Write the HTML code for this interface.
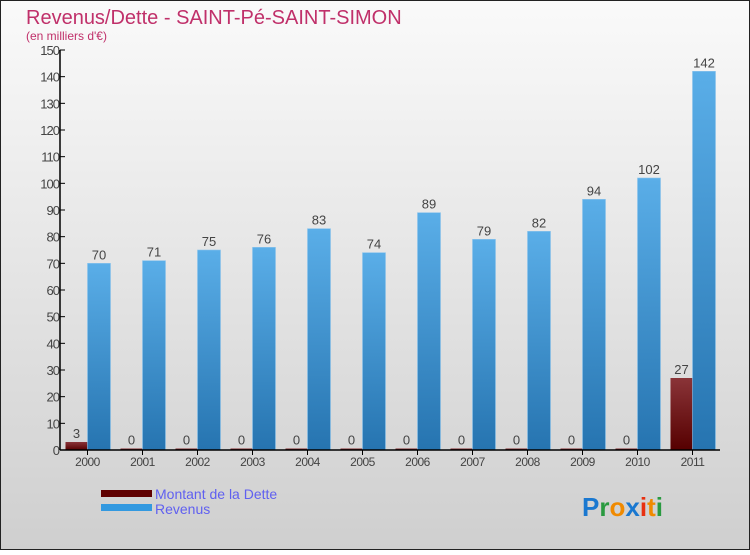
<!DOCTYPE html>
<html><head><meta charset="utf-8"><style>
html,body{margin:0;padding:0;}
body{width:750px;height:550px;overflow:hidden;font-family:"Liberation Sans",sans-serif;}
</style></head><body>
<svg id="chart" width="750" height="550" xmlns="http://www.w3.org/2000/svg">
<defs>
<linearGradient id="bg" x1="0" y1="0" x2="0" y2="1"><stop offset="0" stop-color="#fafafa"/><stop offset="1" stop-color="#cfcfcf"/></linearGradient>
<linearGradient id="gb" x1="0" y1="0" x2="0" y2="1"><stop offset="0" stop-color="#5aaee8"/><stop offset="1" stop-color="#2674b0"/></linearGradient>
<linearGradient id="gr" x1="0" y1="0" x2="0" y2="1"><stop offset="0" stop-color="#8a3438"/><stop offset="1" stop-color="#560000"/></linearGradient>
</defs>
<rect x="0.5" y="0.5" width="749" height="549" fill="url(#bg)" stroke="#222"/>
<text x="26" y="24" font-size="20" fill="#c0306a">Revenus/Dette - SAINT-Pé-SAINT-SIMON</text>
<text x="26" y="40" font-size="12" fill="#c0306a">(en milliers d'€)</text>
<g id="plot"></g>
<g>
<rect x="101" y="490" width="51" height="7" fill="#600000"/>
<text x="155" y="499" font-size="14" fill="#6060f0">Montant de la Dette</text>
<rect x="101" y="504" width="51" height="7" fill="#3399e0"/>
<text x="155" y="514" font-size="14" fill="#6060f0">Revenus</text>
</g>
<text x="582" y="516" font-size="26" font-weight="bold"><tspan fill="#1a78d0">P</tspan><tspan fill="#2a9a40">r</tspan><tspan fill="#f08a00">o</tspan><tspan fill="#1a78d0">x</tspan><tspan fill="#e83010">i</tspan><tspan fill="#f08a00">t</tspan><tspan fill="#2a9a40">i</tspan></text>
</svg>
<script>
const categories=["2000","2001","2002","2003","2004","2005","2006","2007","2008","2009","2010","2011"];
const detteValues=[3,0,0,0,0,0,0,0,0,0,0,27];
const revenusValues=[70,71,75,76,83,74,89,79,82,94,102,142];
const yTicks=[0,10,20,30,40,50,60,70,80,90,100,110,120,130,140,150];
const NS="http://www.w3.org/2000/svg";
const g=document.getElementById('plot');
const x0=60,x1=720,y0=450,yMax=150,ph=400,step=55;
function y(v){return y0-v/yMax*ph;}
function xc(i){return x0+step*(i+0.5);}
function mk(tag,attrs,txt){const e=document.createElementNS(NS,tag);for(const k in attrs)e.setAttribute(k,attrs[k]);if(txt!==undefined)e.textContent=txt;g.appendChild(e);return e;}
yTicks.forEach(t=>{
 const l=mk('line',{x1:x0,x2:x0+5,y1:y(t),y2:y(t),stroke:'#000'});
 
 
 const tx=mk('text',{x:x0-1,y:y(t)+5,'font-size':13,fill:'#444','text-anchor':'end','letter-spacing':'-1'},t);
 
 
});
categories.forEach((c,i)=>{
 const cx=xc(i);
 const dv=detteValues[i],rv=revenusValues[i];
 const hd=Math.max(y0-y(dv),1.5);
 const bd=mk('rect',{x:cx-22,y:y0-hd,width:22,height:hd,fill:'url(#gr)'});
 
 
 const br=mk('rect',{x:cx,y:y(rv),width:23,height:y0-y(rv),fill:'url(#gb)',stroke:'#8cc4ec','stroke-width':0.6});
 
 
 const ld=mk('text',{x:cx-11,y:y0-hd-4,'font-size':13,fill:'#444','text-anchor':'middle'},dv);
 
 
 const lr=mk('text',{x:cx+11.5,y:y(rv)-4,'font-size':13,fill:'#444','text-anchor':'middle'},rv);
 
 
 const tk=mk('line',{x1:cx,x2:cx,y1:y0,y2:y0+5,stroke:'#000'});
 
 
 const xl=mk('text',{x:cx,y:y0+16,'font-size':12,fill:'#444','text-anchor':'middle','letter-spacing':'-0.5'},c);
 
 
});
const ya=mk('line',{x1:x0,x2:x0,y1:y(150),y2:y0,stroke:'#000','stroke-width':1.5});


const xa=mk('line',{x1:x0,x2:x1,y1:y0,y2:y0,stroke:'#000','stroke-width':1.5});


</script>
</body></html>
